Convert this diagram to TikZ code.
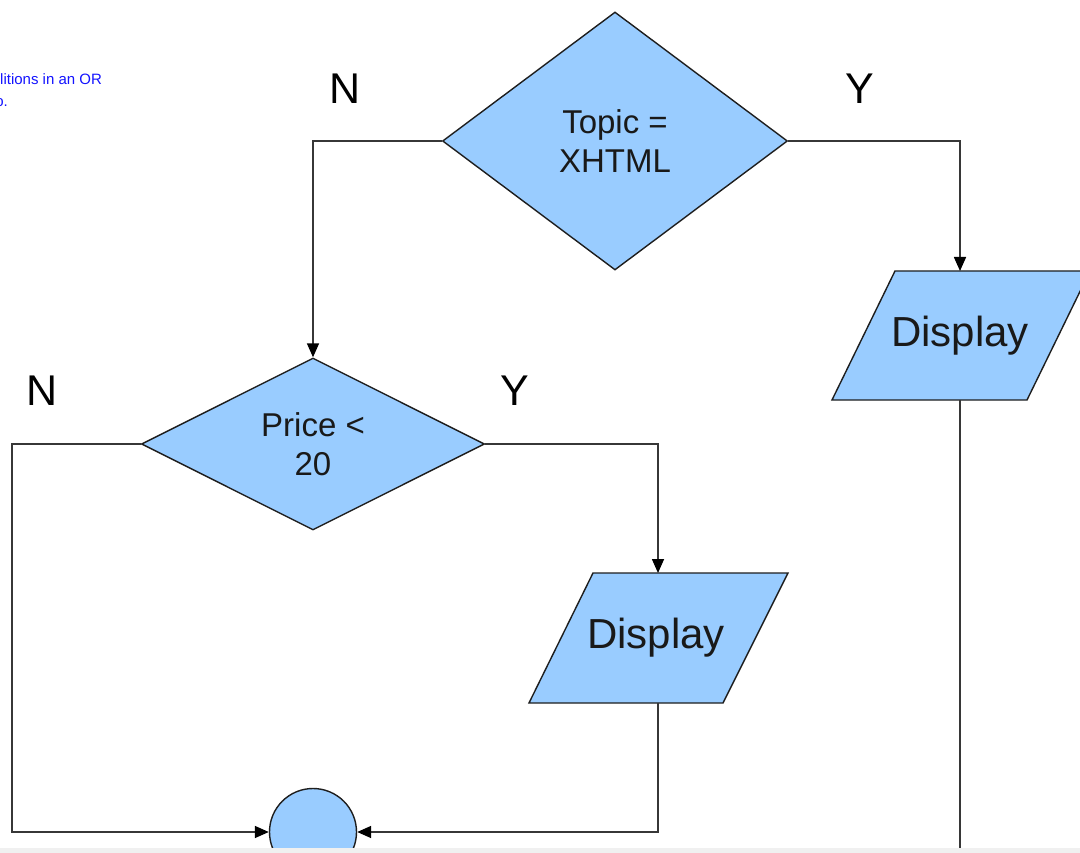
\documentclass[tikz,border=0pt]{standalone}
\usepackage{fontspec}
\setmainfont{Liberation Sans}
\usetikzlibrary{shapes.geometric,arrows.meta}
\definecolor{boxblue}{RGB}{153,204,255}
\definecolor{edgec}{RGB}{30,30,30}
\definecolor{linec}{RGB}{55,55,55}
\definecolor{notec}{RGB}{20,20,255}
\definecolor{barc}{RGB}{240,240,240}
\begin{document}
\begin{tikzpicture}[x=1pt,y=-1pt,
  shapefill/.style={draw=edgec, line width=1.4pt, fill=boxblue},
  decision/.style={shapefill, diamond, inner sep=0pt, align=center, text=black!90, font=\fontsize{33}{39}\selectfont},
  ioshape/.style={shapefill, line join=miter},
  iotext/.style={inner sep=0pt, text=black!90, font=\fontsize{42}{48}\selectfont},
  yn/.style={inner sep=0pt, anchor=base, font=\fontsize{43}{46}\selectfont},
  note/.style={inner sep=0pt, text=notec, font=\fontsize{15}{18}\selectfont},
  conn/.style={draw=linec, line width=1.6pt},
  arr/.style={conn, -{Triangle[length=14pt,width=12pt,color=black]}}]
\useasboundingbox (0,0) rectangle (1080,853);
\fill[white] (0,0) rectangle (1080,853);
\begin{scope}
\clip (0,0) rectangle (1080,848);
% notes (cut off at the left edge, as in the reference)
\node[note, anchor=base west] (note1) at (0,85) {litions in an OR};
\node[note, anchor=base east] (note2) at (8,107) {o.};
% decisions
\node[decision, minimum width=345pt, minimum height=258pt] (topic) at (615,141) {Topic =\\XHTML};
\node[decision, minimum width=343pt, minimum height=172pt] (price) at (313,444) {Price <\\20};
% labels
\node[yn] (n1) at (345,104) {N};
\node[yn] (y1) at (860,104) {Y};
\node[yn] (n2) at (42,406) {N};
\node[yn] (y2) at (515,406) {Y};
% display 1 (right)
\coordinate (d1a) at (895,271);
\coordinate (d1b) at (1090,271);
\coordinate (d1c) at (1027,400);
\coordinate (d1d) at (832,400);
\draw[ioshape] (d1a) -- (d1b) -- (d1c) -- (d1d) -- cycle;
\node[iotext] (disp1) at (960,336) {Display};
\coordinate (d1in) at (960,271);
\coordinate (d1out) at (960,400);
\coordinate (d1end) at (960,860);
% display 2
\coordinate (d2a) at (593,573);
\coordinate (d2b) at (788,573);
\coordinate (d2c) at (723,703);
\coordinate (d2d) at (529,703);
\draw[ioshape] (d2a) -- (d2b) -- (d2c) -- (d2d) -- cycle;
\node[iotext] (disp2) at (656,638) {Display};
\coordinate (d2in) at (658,573);
\coordinate (d2out) at (658,703);
% connector circle
\node[shapefill, circle, minimum size=87pt, inner sep=0pt] (join) at (313,832) {};
\coordinate (lc) at (12,832);
% connectors
\draw[arr] (topic.west) -| (price.north);
\draw[arr] (topic.east) -| (d1in);
\draw[conn] (d1out) -- (d1end);
\draw[arr] (price.east) -| (d2in);
\draw[arr] (price.west) -| (lc) -- (join.west);
\draw[arr] (d2out) |- (join.east);
\end{scope}
\fill[barc] (0,848) rectangle (1080,853);
\end{tikzpicture}
\end{document}
